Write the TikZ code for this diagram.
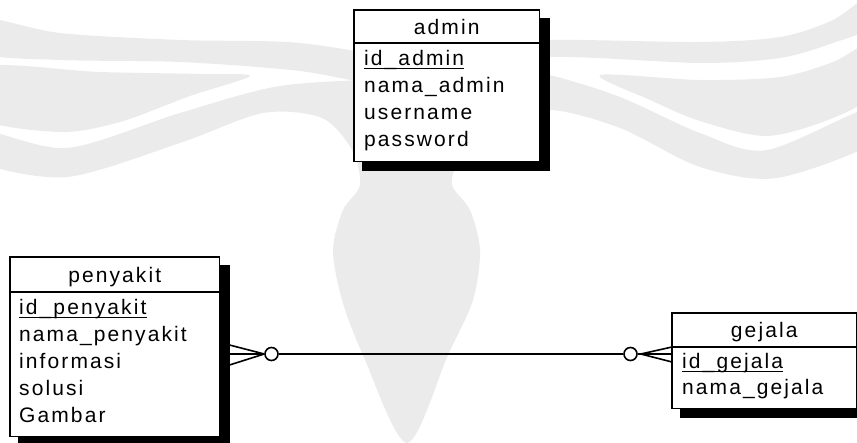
\documentclass[tikz,border=0pt]{standalone}
\usepackage{fontspec}
\setmainfont[LetterSpace=10]{Liberation Sans}
\usetikzlibrary{calc}

\definecolor{wmark}{RGB}{235,235,235}

\tikzset{
  entity/.style={draw, line width=1.5pt, fill=white, rectangle, inner sep=0pt, anchor=north west},
  boxshadow/.style={fill=black},
  hdr/.style={anchor=base, inner sep=0pt, font=\fontsize{21}{25}\selectfont},
  field/.style={anchor=base west, inner sep=0pt, font=\fontsize{21}{25}\selectfont},
  sep/.style={line width=1.5pt},
  keyline/.style={line width=1.2pt},
  rel/.style={line width=1.6pt},
  optional/.style={circle, draw, line width=1.6pt, fill=white, minimum size=13pt, inner sep=0pt},
}

\begin{document}
\begin{tikzpicture}[x=1pt, y=-1pt]
\useasboundingbox (0,0) rectangle (857,443);

% faint logo in the background
\begin{scope}
  \clip (0,0) rectangle (857,443);
  \fill[wmark] plot[smooth cycle] coordinates {(-20,18) (60,33) (180,40) (300,43) (400,62) (400,88) (300,71) (180,62) (60,60) (-20,53)};
  \fill[wmark] plot[smooth cycle] coordinates {(-20,67) (100,72) (200,74) (250,76) (190,96) (120,122) (60,132) (-20,118)};
  \fill[wmark] plot[smooth cycle] coordinates {(450,48) (549,40) (700,42) (780,37) (833,20) (875,-8) (875,25) (833,43) (780,58) (700,63) (549,57) (450,72)};
  \fill[wmark] plot[smooth cycle] coordinates {(600,75) (700,80) (780,77) (833,62) (875,42) (875,92) (833,118) (767,136) (700,121) (650,100)};
  \fill[wmark] plot[smooth cycle] coordinates {(-20,130) (67,148) (180,113) (280,86) (400,78) (500,70) (549,75) (620,97) (700,133) (767,150) (875,106) (875,142) (777,178) (700,167) (620,128) (549,110) (495,128) (460,160) (452,185) (470,210) (480,250) (473,300) (448,355) (407,443) (363,355) (342,300) (333,250) (343,210) (360,185) (352,150) (322,118) (263,113) (180,143) (67,177) (-20,162)};
\end{scope}

% entity boxes
\node[entity, minimum width=184pt, minimum height=150pt] (admin) at (354,10) {};
\node[entity, minimum width=208pt, minimum height=178pt] (penyakit) at (10,257) {};
\node[entity, minimum width=183pt, minimum height=94pt] (gejala) at (672,313) {};

% shadows, then the boxes again on top
\foreach \e in {admin,penyakit,gejala}{
  \fill[boxshadow] ([shift={(8,8)}]\e.north west) rectangle ([shift={(10,10)}]\e.south east);
  \draw[line width=1.5pt, fill=white] (\e.north west) rectangle (\e.south east);
}

% header separators
\path (admin.north west) ++(0,33) coordinate (adminH);
\draw[sep] (adminH) -- (adminH -| admin.east);
\path (penyakit.north west) ++(0,35) coordinate (penyakitH);
\draw[sep] (penyakitH) -- (penyakitH -| penyakit.east);
\path (gejala.north west) ++(0,34) coordinate (gejalaH);
\draw[sep] (gejalaH) -- (gejalaH -| gejala.east);

% admin
\node[hdr] (adminT) at ($(admin.north)+(0,25)$) {admin};
\node[field] (a1) at (364,66) {id\_admin};
\node[field] (a2) at (364,93) {nama\_admin};
\node[field] (a3) at (364,120) {username};
\node[field] (a4) at (364,147) {password};
\draw[keyline] ([yshift=-2.5pt]a1.base west) -- ([yshift=-2.5pt]a1.base east);

% penyakit
\node[hdr] (penyakitT) at ($(penyakit.north)+(0,26)$) {penyakit};
\node[field] (p1) at (19,315) {id\_penyakit};
\node[field] (p2) at (19,342) {nama\_penyakit};
\node[field] (p3) at (19,369) {informasi};
\node[field] (p4) at (19,396) {solusi};
\node[field] (p5) at (19,423) {Gambar};
\draw[keyline] ([yshift=-2.5pt]p1.base west) -- ([yshift=-2.5pt]p1.base east);

% gejala
\node[hdr] (gejalaT) at ($(gejala.north)+(0,25)$) {gejala};
\node[field] (g1) at (682,369) {id\_gejala};
\node[field] (g2) at (682,395) {nama\_gejala};
\draw[keyline] ([yshift=-2.5pt]g1.base west) -- ([yshift=-2.5pt]g1.base east);

% relationship penyakit >o----o< gejala
\node[optional] (o1) at (271.5,354) {};
\node[optional] (o2) at (630.5,354) {};
\draw[rel] (o1) -- (o2);

\coordinate (lc) at (o1.west);
\draw[rel] (lc) -- ($(lc -| penyakit.east)+(10,-9)$)
           (lc) -- ($(lc -| penyakit.east)+(10,0)$)
           (lc) -- ($(lc -| penyakit.east)+(10,11)$);

\path (o2.east) ++(3,0) coordinate (rc);
\draw[rel] (o2.east) -- (rc);
\draw[rel] (rc) -- ($(rc -| gejala.west)+(0,-7)$)
           (rc) -- (rc -| gejala.west)
           (rc) -- ($(rc -| gejala.west)+(0,8)$);
\end{tikzpicture}
\end{document}
